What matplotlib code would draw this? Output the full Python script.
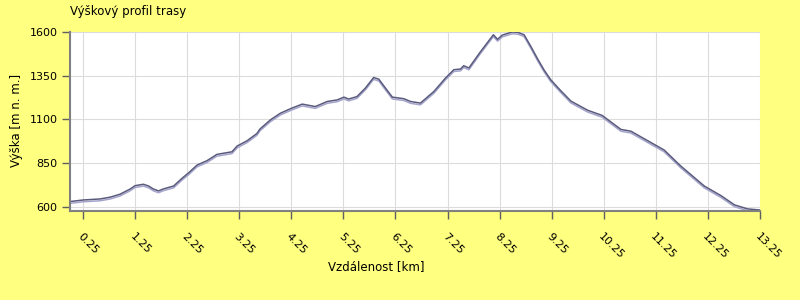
import matplotlib.pyplot as plt
import matplotlib.patheffects as pe

# Elevation profile
distance_km = [0.0, 0.25, 0.58, 0.77, 0.96, 1.15, 1.25, 1.41, 1.51, 1.60, 1.70, 1.79,
               1.99, 2.15, 2.28, 2.44, 2.63, 2.82, 3.11, 3.21, 3.40, 3.59, 3.65, 3.85,
               4.04, 4.26, 4.46, 4.71, 4.94, 5.13, 5.26, 5.35, 5.51, 5.67, 5.83, 5.93,
               6.06, 6.19, 6.41, 6.54, 6.73, 6.99, 7.21, 7.37, 7.50, 7.56, 7.66, 7.88,
               8.13, 8.21, 8.30, 8.49, 8.60, 8.72, 8.85, 8.97, 9.10, 9.23, 9.42, 9.62,
               9.94, 10.22, 10.58, 10.77, 11.22, 11.41, 11.73, 12.18, 12.50, 12.76,
               13.01, 13.24]
elevation_m = [629, 638, 644, 654, 671, 700, 720, 728, 718, 701, 690, 701,
               718, 762, 794, 838, 863, 899, 914, 947, 977, 1019, 1045, 1097,
               1135, 1164, 1187, 1173, 1202, 1211, 1227, 1216, 1230, 1278, 1339, 1330,
               1278, 1227, 1218, 1202, 1193, 1260, 1336, 1384, 1388, 1407, 1394, 1486,
               1584, 1558, 1582, 1600, 1598, 1584, 1517, 1451, 1384, 1327, 1265, 1204,
               1152, 1122, 1042, 1032, 956, 924, 832, 718, 663, 610,
               587, 581]

x_ticks = [0.25 + i for i in range(14)]
y_ticks = [600, 850, 1100, 1350, 1600]

bg = '#ffff80'
fig = plt.figure(figsize=(8, 3), dpi=100, facecolor=bg)
ax = fig.add_axes([70 / 800, 1 - 211 / 300, 690 / 800, 179 / 300])

ax.plot(distance_km, elevation_m, color='#5a5a7c', linewidth=1.1,
        path_effects=[pe.SimpleLineShadow(offset=(0, -1.3), shadow_color='#a4a4cc', alpha=1),
                      pe.Normal()])

ax.set_xlim(0, 13.25)
ax.set_ylim(575, 1600)
ax.set_xticks(x_ticks)
ax.set_xticklabels([f'{t:.2f}' for t in x_ticks], rotation=-45, ha='left', va='top',
                   rotation_mode='anchor', fontsize=8)
ax.set_yticks(y_ticks)
ax.set_yticklabels([str(v) for v in y_ticks], fontsize=8)
ax.grid(True, color='#dcdcdc', linewidth=0.8)
ax.set_axisbelow(True)

for s in ['top', 'right']:
    ax.spines[s].set_visible(False)
for s in ['left', 'bottom']:
    ax.spines[s].set_color('#808080')
    ax.spines[s].set_linewidth(1.5)
ax.tick_params(axis='both', color='#606060', length=6, width=1)
ax.tick_params(axis='x', pad=9)
ax.tick_params(axis='y', pad=3)

fig.text(70 / 800, 1 - 12 / 300, 'Výškový profil trasy', fontsize=8.5, ha='left', va='center')
fig.text(17 / 800, 1 - 120 / 300, 'Výška [m n. m.]', fontsize=8.5, rotation=90,
         ha='center', va='center')
fig.text(328 / 800, 1 - 267 / 300, 'Vzdálenost [km]', fontsize=8.5, ha='left', va='center')

fig.savefig('out.png', dpi=100, facecolor=bg)
